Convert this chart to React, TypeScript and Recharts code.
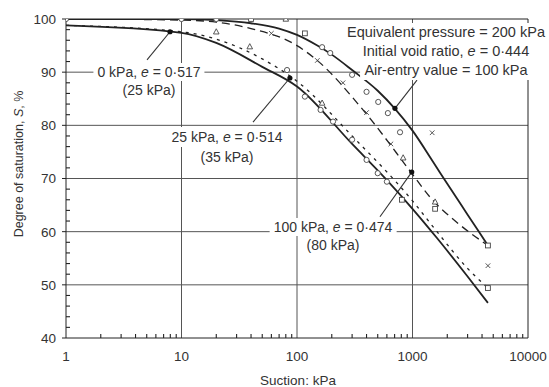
import React from 'react';
import { ComposedChart, Line, Scatter, XAxis, YAxis, ReferenceLine, ReferenceDot } from 'recharts';

// suction s (kPa) vs degree of saturation S (%)
const curve200 = [
  { s: 1, S: 100 }, { s: 10, S: 100 }, { s: 20, S: 99.8 }, { s: 40, S: 99.2 },
  { s: 70, S: 98.2 }, { s: 100, S: 97 }, { s: 150, S: 95 }, { s: 200, S: 93.3 },
  { s: 300, S: 90.4 }, { s: 500, S: 86.5 }, { s: 700, S: 83.2 }, { s: 1000, S: 79 },
  { s: 1500, S: 73.2 }, { s: 2000, S: 69 }, { s: 3000, S: 63.2 }, { s: 4500, S: 57.4 },
];
const curve100 = [
  { s: 1, S: 100 }, { s: 10, S: 99.8 }, { s: 20, S: 99.4 }, { s: 40, S: 98.2 },
  { s: 100, S: 95 }, { s: 148, S: 92.3 }, { s: 373, S: 82.9 }, { s: 1000, S: 70.8 },
  { s: 1418, S: 66.5 }, { s: 2500, S: 61.5 }, { s: 4500, S: 57.4 },
];
const curve25 = [
  { s: 1, S: 98.8 }, { s: 10, S: 97.6 }, { s: 20, S: 96.2 }, { s: 50, S: 92.5 },
  { s: 100, S: 88.3 }, { s: 300, S: 78 }, { s: 1000, S: 65.8 }, { s: 1629, S: 60 },
  { s: 2965, S: 53.2 }, { s: 4500, S: 49.4 },
];
const curve0 = [
  { s: 1, S: 98.8 }, { s: 10, S: 97.4 }, { s: 20, S: 95.5 }, { s: 50, S: 91 },
  { s: 100, S: 87.3 }, { s: 300, S: 76.5 }, { s: 600, S: 69.7 }, { s: 1000, S: 64.3 },
  { s: 1629, S: 58.8 }, { s: 2965, S: 51.7 }, { s: 4500, S: 46.6 },
];

const circles = [
  { s: 1, S: 100 }, { s: 10, S: 100 }, { s: 20, S: 100 },
  { s: 165, S: 94.7 }, { s: 194, S: 93.6 }, { s: 300, S: 89.5 }, { s: 400, S: 86.3 },
  { s: 505, S: 84.4 }, { s: 612, S: 82.3 }, { s: 780, S: 78.7 },
  { s: 82, S: 90.4 }, { s: 117, S: 85.4 }, { s: 160, S: 82.9 }, { s: 205, S: 80.7 },
  { s: 300, S: 77.3 }, { s: 400, S: 73.5 }, { s: 500, S: 71 }, { s: 600, S: 69.4 },
];
const triangles = [
  { s: 20, S: 97.6 }, { s: 39, S: 94.8 }, { s: 80, S: 100 }, { s: 165, S: 84.2 },
  { s: 830, S: 73.9 }, { s: 1570, S: 65.6 },
];
const crosses = [
  { s: 60, S: 97.3 }, { s: 150, S: 92.2 }, { s: 250, S: 88 }, { s: 400, S: 82.4 },
  { s: 650, S: 76.5 }, { s: 1480, S: 78.6 }, { s: 4500, S: 53.6 },
];
const squares = [
  { s: 40, S: 100 }, { s: 117, S: 97.3 }, { s: 810, S: 66 }, { s: 1570, S: 64.3 },
  { s: 4500, S: 57.4 }, { s: 4500, S: 49.4 },
];

// labelled points and the leader lines pointing at them
const markedDots = [
  { s: 7.95, S: 97.6 }, { s: 86.8, S: 88.9 }, { s: 705, S: 83.2 }, { s: 985, S: 71.2 },
];
const leader0 = [{ s: 5.03, S: 92.3 }, { s: 7.95, S: 97.6 }];
const leader25 = [{ s: 41.6, S: 80.6 }, { s: 86.8, S: 88.9 }];
const leader200 = [{ s: 1094, S: 88.5 }, { s: 705, S: 83.2 }];
const leader100 = [{ s: 523, S: 62.8 }, { s: 985, S: 71.2 }];

const xLabels = [1, 10, 100, 1000, 10000];
const yLabels = [40, 50, 60, 70, 80, 90, 100];
const xMinor = [1, 10, 100, 1000].flatMap((d) => [2, 3, 4, 5, 6, 7, 8, 9].map((m) => ({ s: m * d, S: 40 })));
const yMinor = [42, 44, 46, 48, 52, 54, 56, 58, 62, 64, 66, 68, 72, 74, 76, 78, 82, 84, 86, 88, 92, 94, 96, 98].map(
  (v) => ({ s: 1, S: v })
);

const INK = '#222';
const GRID = '#555';
const FONT = '"Liberation Sans", Arial, Helvetica, sans-serif';

const XTick = (p: any) => (
  <text x={p.x} y={p.y + 23} textAnchor="middle" fontSize={13.5} fill="#333" fontFamily={FONT}>
    {p.payload.value}
  </text>
);

const YTick = (p: any) => (
  <g>
    <line x1={p.x - 4} x2={p.x} y1={p.y} y2={p.y} stroke={INK} strokeWidth={1} />
    <text x={p.x - 10} y={p.y} dy="0.36em" textAnchor="end" fontSize={13.5} fill="#333" fontFamily={FONT}>
      {p.payload.value}
    </text>
  </g>
);

const Circle = (p: any) => <circle cx={p.cx} cy={p.cy} r={2.6} fill="#fff" stroke="#444" strokeWidth={0.9} />;
const Tri = (p: any) => (
  <polygon
    points={`${p.cx},${p.cy - 3} ${p.cx - 2.8},${p.cy + 2.2} ${p.cx + 2.8},${p.cy + 2.2}`}
    fill="#fff"
    stroke="#444"
    strokeWidth={0.9}
  />
);
const Cross = (p: any) => (
  <g stroke="#444" strokeWidth={0.9}>
    <line x1={p.cx - 2.3} y1={p.cy - 2.3} x2={p.cx + 2.3} y2={p.cy + 2.3} />
    <line x1={p.cx - 2.3} y1={p.cy + 2.3} x2={p.cx + 2.3} y2={p.cy - 2.3} />
  </g>
);
const Square = (p: any) => (
  <rect x={p.cx - 2.4} y={p.cy - 2.4} width={4.8} height={4.8} fill="#fff" stroke="#444" strokeWidth={0.9} />
);
const XMinorMark = (p: any) => <line x1={p.cx} x2={p.cx} y1={p.cy} y2={p.cy - 4} stroke={INK} strokeWidth={1.1} />;
const YMinorMark = (p: any) => <line x1={p.cx} x2={p.cx + 4} y1={p.cy} y2={p.cy} stroke={INK} strokeWidth={1.1} />;

const Note = ({ cx, cy, lines, lh = 19, fs = 14 }: { cx: number; cy: number; lines: React.ReactNode[]; lh?: number; fs?: number }) => (
  <div
    style={{
      position: 'absolute',
      left: cx,
      top: cy - lh / 2,
      transform: 'translateX(-50%)',
      textAlign: 'center',
      fontFamily: FONT,
      fontSize: fs,
      lineHeight: `${lh}px`,
      color: '#333',
      whiteSpace: 'nowrap',
    }}
  >
    {lines.map((l, i) => (
      <div key={i}>
        <span style={{ background: '#fff', padding: '0 4px', display: 'inline-block' }}>{l}</span>
      </div>
    ))}
  </div>
);

const e = <i>e</i>;
const leaderProps = { dataKey: 'S', type: 'linear' as const, stroke: '#333', strokeWidth: 1.1, dot: false, activeDot: false, isAnimationActive: false };

export default function App() {
  return (
    <div style={{ position: 'absolute', left: 0, top: 0, width: 549, height: 387, background: '#fff' }}>
      <ComposedChart width={549} height={387} margin={{ top: 19, right: 21, bottom: 0, left: 0 }}>
        <XAxis
          type="number"
          dataKey="s"
          scale="log"
          domain={[1, 10000]}
          allowDataOverflow
          ticks={xLabels}
          interval={0}
          tick={<XTick />}
          tickLine={false}
          tickSize={0}
          tickMargin={0}
          height={49}
          axisLine={{ stroke: INK }}
        />
        <YAxis
          type="number"
          dataKey="S"
          domain={[40, 100]}
          allowDataOverflow
          ticks={yLabels}
          interval={0}
          tick={<YTick />}
          tickLine={false}
          tickSize={0}
          tickMargin={0}
          width={66}
          axisLine={{ stroke: INK }}
        />
        <ReferenceLine x={10} stroke={GRID} strokeWidth={1} />
        <ReferenceLine x={100} stroke={GRID} strokeWidth={1} />
        <ReferenceLine x={1000} stroke={GRID} strokeWidth={1} />
        <ReferenceLine y={50} stroke={GRID} strokeWidth={1} />
        <ReferenceLine y={60} stroke={GRID} strokeWidth={1} />
        <ReferenceLine y={70} stroke={GRID} strokeWidth={1} />
        <ReferenceLine y={80} stroke={GRID} strokeWidth={1} />
        <ReferenceLine y={90} stroke={GRID} strokeWidth={1} />
        <ReferenceLine x={10000} stroke={INK} strokeWidth={1} />
        <ReferenceLine y={100} stroke={INK} strokeWidth={1} />
        <Scatter data={xMinor} dataKey="S" shape={XMinorMark} isAnimationActive={false} />
        <Scatter data={yMinor} dataKey="S" shape={YMinorMark} isAnimationActive={false} />
        <Line data={leader0} {...leaderProps} />
        <Line data={leader25} {...leaderProps} />
        <Line data={leader200} {...leaderProps} />
        <Line data={leader100} {...leaderProps} />
        <Line data={curve200} dataKey="S" type="monotone" stroke={INK} strokeWidth={1.8} dot={false} activeDot={false} isAnimationActive={false} />
        <Line data={curve100} dataKey="S" type="monotone" stroke={INK} strokeWidth={1.3} strokeDasharray="8 5" dot={false} activeDot={false} isAnimationActive={false} />
        <Line data={curve25} dataKey="S" type="monotone" stroke={INK} strokeWidth={1.3} strokeDasharray="3 5" dot={false} activeDot={false} isAnimationActive={false} />
        <Line data={curve0} dataKey="S" type="monotone" stroke={INK} strokeWidth={1.8} dot={false} activeDot={false} isAnimationActive={false} />
        <Scatter data={circles} dataKey="S" shape={Circle} isAnimationActive={false} />
        <Scatter data={triangles} dataKey="S" shape={Tri} isAnimationActive={false} />
        <Scatter data={crosses} dataKey="S" shape={Cross} isAnimationActive={false} />
        <Scatter data={squares} dataKey="S" shape={Square} isAnimationActive={false} />
        {markedDots.map((d, i) => (
          <ReferenceDot key={'d' + i} x={d.s} y={d.S} r={2.6} fill="#111" stroke="none" />
        ))}
      </ComposedChart>

      <Note
        cx={446}
        cy={32}
        fs={14.5}
        lines={[
          'Equivalent pressure = 200 kPa',
          <>Initial void ratio, {e} = 0·444</>,
          'Air-entry value = 100 kPa',
        ]}
      />
      <Note cx={149} cy={72} lines={[<>0 kPa, {e} = 0·517</>, '(25 kPa)']} lh={18} />
      <Note cx={227} cy={137} lines={[<>25 kPa, {e} = 0·514</>, '(35 kPa)']} lh={20} />
      <Note cx={333} cy={227} lines={[<>100 kPa, {e} = 0·474</>, '(80 kPa)']} lh={18} />

      <div
        style={{
          position: 'absolute',
          left: 298,
          top: 374,
          transform: 'translateX(-50%)',
          fontFamily: FONT,
          fontSize: 13.5,
          color: '#333',
          whiteSpace: 'nowrap',
          lineHeight: '14px',
        }}
      >
        Suction: kPa
      </div>
      <div
        style={{
          position: 'absolute',
          left: 19,
          top: 164,
          transform: 'translate(-50%, -50%) rotate(-90deg)',
          fontFamily: FONT,
          fontSize: 12.5,
          color: '#333',
          whiteSpace: 'nowrap',
          lineHeight: '14px',
        }}
      >
        Degree of saturation, <i>S</i>, %
      </div>
    </div>
  );
}
